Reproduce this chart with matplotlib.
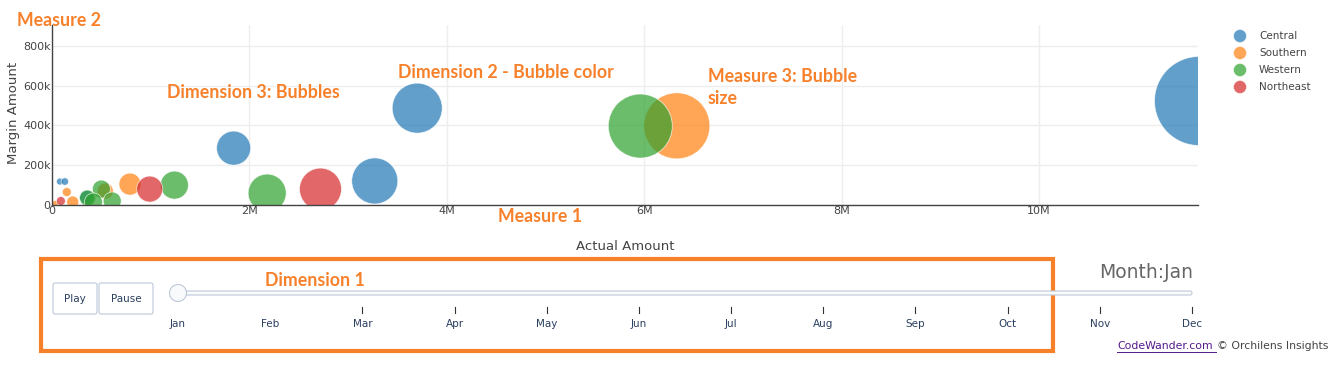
import numpy as np
import matplotlib.pyplot as plt
from matplotlib.patches import Rectangle, FancyBboxPatch, Circle
from matplotlib.ticker import FuncFormatter

# data (Month = Jan frame)
regions = ["Central", "Southern", "Western", "Northeast"]
colors = ["#1f77b4", "#ff7f0e", "#2ca02c", "#d62728"]

region_of = ["Central", "Central", "Central", "Central", "Central", "Central", "Central",
             "Southern", "Southern", "Southern", "Southern", "Southern", "Southern",
             "Western", "Western", "Western", "Western", "Western", "Western", "Western",
             "Northeast", "Northeast", "Northeast"]
actual_amount = [11.62e6, 3.70e6, 1.84e6, 3.27e6, 0.08e6, 0.13e6, 0.35e6,
                 6.33e6, 0.79e6, 0.15e6, 0.54e6, 0.21e6, 0.03e6,
                 5.96e6, 2.18e6, 1.24e6, 0.50e6, 0.61e6, 0.36e6, 0.42e6,
                 2.72e6, 0.99e6, 0.09e6]
margin_amount = [523e3, 487e3, 286e3, 121e3, 118e3, 118e3, 40e3,
                 398e3, 105e3, 65e3, 70e3, 15e3, 5e3,
                 397e3, 60e3, 100e3, 80e3, 20e3, 35e3, 15e3,
                 80e3, 80e3, 20e3]
bubble_size = [1980, 625, 290, 530, 12, 14, 49,
               1090, 121, 20, 64, 36, 12,
               1024, 361, 196, 81, 81, 64, 81,
               441, 169, 20]

months = ["Jan", "Feb", "Mar", "Apr", "May", "Jun",
          "Jul", "Aug", "Sep", "Oct", "Nov", "Dec"]

W, H = 1333, 375
fig = plt.figure(figsize=(W / 100, H / 100), dpi=100)
ax = fig.add_axes([52 / W, 1 - 205 / H, (1198 - 52) / W, (205 - 25) / H])

px_to_pt = 72 / 100
for reg, col in zip(regions, colors):
    idx = [i for i, r in enumerate(region_of) if r == reg]
    xs = [actual_amount[i] for i in idx]
    ys = [margin_amount[i] for i in idx]
    ss = [(2 * np.sqrt(bubble_size[i]) * px_to_pt) ** 2 for i in idx]
    ax.scatter(xs, ys, s=ss, color=col, alpha=0.7, edgecolor="white",
               linewidth=0.6, zorder=3)

ax.set_xlim(0, 11.61e6)
ax.set_ylim(0, 905e3)
ax.set_xticks([0, 2e6, 4e6, 6e6, 8e6, 10e6])
ax.set_yticks([0, 200e3, 400e3, 600e3, 800e3])
ax.xaxis.set_major_formatter(FuncFormatter(lambda v, p: "0" if v == 0 else f"{v / 1e6:g}M"))
ax.yaxis.set_major_formatter(FuncFormatter(lambda v, p: "0" if v == 0 else f"{v / 1e3:g}k"))
ax.tick_params(length=0, labelsize=8, colors="#444", pad=1)
ax.grid(True, color="#eeeeee", linewidth=1, zorder=0)
ax.set_axisbelow(True)
for s in ["top", "right"]:
    ax.spines[s].set_visible(False)
for s in ["left", "bottom"]:
    ax.spines[s].set_color("#444")
    ax.spines[s].set_linewidth(1)
    ax.spines[s].set_zorder(4)

# overlay in pixel coordinates for labels, legend and slider
ov = fig.add_axes([0, 0, 1, 1])
ov.set_xlim(0, W)
ov.set_ylim(H, 0)
ov.axis("off")
ov.patch.set_alpha(0)

ov.text(625, 247, "Actual Amount", ha="center", va="center", fontsize=9.5, color="#444")
ov.text(14, 113, "Margin Amount", ha="center", va="center", rotation=90, fontsize=9.5, color="#444")

# legend
for i, (reg, col) in enumerate(zip(regions, colors)):
    y = 36 + i * 17
    ov.add_patch(Circle((1240, y), 6.5, color=col, alpha=0.7, ec="white", lw=0.5))
    ov.text(1259, y, reg, ha="left", va="center", fontsize=7.5, color="#444")

# annotations
orange = "#f7812b"
afont = dict(color=orange, fontsize=12.8, fontweight="bold", family="Lato", va="center")
ov.text(17, 20, "Measure 2", ha="left", **afont)
ov.text(167, 92, "Dimension 3: Bubbles", ha="left", **afont)
ov.text(398, 72, "Dimension 2 - Bubble color", ha="left", **afont)
ov.text(708, 76, "Measure 3: Bubble", ha="left", **afont)
ov.text(708, 99, "size", ha="left", **afont)
ov.text(498, 217, "Measure 1", ha="left", **afont)
ov.text(265, 280, "Dimension 1", ha="left", **afont)
ov.add_patch(Rectangle((41, 259), 1012, 92, fill=False, ec=orange, lw=3))

# play / pause buttons
for x0, w, label in [(53, 44, "Play"), (99, 54, "Pause")]:
    ov.add_patch(FancyBboxPatch((x0, 283), w, 31, boxstyle="round,pad=0,rounding_size=2",
                                fc="white", ec="#bec8d9", lw=0.8))
    ov.text(x0 + w / 2, 298.5, label, ha="center", va="center", fontsize=7.5, color="#2a3f5f")

# slider
x_start, x_end = 178, 1192
ov.add_patch(FancyBboxPatch((x_start, 291), x_end - x_start, 4, boxstyle="round,pad=0,rounding_size=2",
                            fc="#f8fafc", ec="#bec8d9", lw=0.8))
step = (x_end - x_start) / (len(months) - 1)
for i, m in enumerate(months):
    x = x_start + i * step
    if i >= 2:
        ov.plot([x, x], [307, 313], color="#333", lw=0.8)
    ov.text(x, 324, m, ha="center", va="center", fontsize=7.5, color="#2a3f5f")
ov.add_patch(Circle((x_start, 293), 8.5, fc="#f8fafc", ec="#bec8d9", lw=0.8, zorder=5))
ov.text(1193, 272, "Month:" + months[0], ha="right", va="center", fontsize=13.5, color="#666")

# credit line: link text placed just left of the copyright part
rest = ov.text(1328, 346, "\u00a9 Orchilens Insights", ha="right", va="center", fontsize=7.8, color="#444")
renderer = fig.canvas.get_renderer()
bb = rest.get_window_extent(renderer)
left_px = bb.x0 - 4
link = fig.text(left_px / W, 1 - 346 / H, "CodeWander.com", ha="right", va="center",
                fontsize=7.8, color="#551a8b")
lb = link.get_window_extent(renderer)
ov.plot([lb.x0, lb.x1 + 3], [352, 352], color="#551a8b", lw=0.7)

fig.savefig("out.png", dpi=100)
